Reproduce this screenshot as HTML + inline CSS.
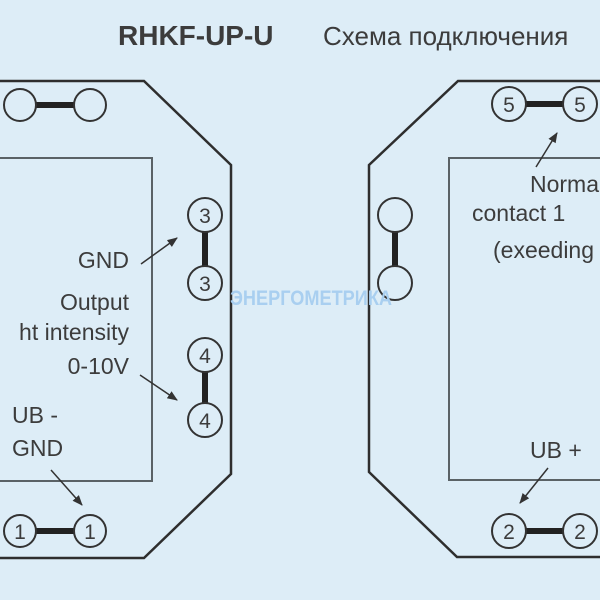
<!DOCTYPE html>
<html><head><meta charset="utf-8"><style>
html,body{margin:0;padding:0;background:#ddedf7;}
svg{display:block}
text{font-family:"Liberation Sans",sans-serif;fill:#3c3c3c;}
</style></head><body>
<svg width="600" height="600" viewBox="0 0 600 600" xmlns="http://www.w3.org/2000/svg">
<defs><marker id="a" viewBox="0 0 10 10" refX="9" refY="5" markerWidth="7" markerHeight="7" orient="auto"><path d="M0,1 L10,5 L0,9 z" fill="#333"/></marker></defs>
<rect width="600" height="600" fill="#ddedf7"/>
<text x="118" y="45" font-size="28" font-weight="bold" fill="#333">RHKF-UP-U</text>
<text x="323" y="45" font-size="26" fill="#444">Схема подключения</text>
<g fill="none" stroke="#2e2e2e" stroke-width="2.5">
<path d="M-5,81 H144 L231,165 V474 L144,558 H-5"/>
<path d="M605,81 H458 L369,165 V472 L457,557 H605"/>
</g>
<g fill="none" stroke="#5a6266" stroke-width="2">
<path d="M-5,158 H152 V481 H-5"/>
<path d="M605,158 H449 V480 H605"/>
</g>
<g stroke="#222" stroke-width="6">
<line x1="36" y1="105" x2="74" y2="105"/>
<line x1="205" y1="232" x2="205" y2="266"/>
<line x1="205" y1="372" x2="205" y2="403"/>
<line x1="36" y1="531" x2="74" y2="531"/>
<line x1="526" y1="104" x2="563" y2="104"/>
<line x1="395" y1="232" x2="395" y2="266"/>
<line x1="526" y1="531" x2="563" y2="531"/>
</g>
<g fill="#ddedf7" stroke="#333" stroke-width="2">
<circle cx="20" cy="105" r="16"/><circle cx="90" cy="105" r="16"/>
<circle cx="205" cy="215" r="17"/><circle cx="205" cy="283" r="17"/>
<circle cx="205" cy="355" r="17"/><circle cx="205" cy="420" r="17"/>
<circle cx="20" cy="531" r="16"/><circle cx="90" cy="531" r="16"/>
<circle cx="509" cy="104" r="17"/><circle cx="580" cy="104" r="17"/>
<circle cx="395" cy="215" r="17"/><circle cx="395" cy="283" r="17"/>
<circle cx="509" cy="531" r="17"/><circle cx="580" cy="531" r="17"/>
</g>
<g font-size="21" text-anchor="middle">
<text x="205" y="223">3</text><text x="205" y="291">3</text>
<text x="205" y="363">4</text><text x="205" y="428">4</text>
<text x="20" y="539">1</text><text x="90" y="539">1</text>
<text x="509" y="112">5</text><text x="580" y="112">5</text>
<text x="509" y="539">2</text><text x="580" y="539">2</text>
</g>
<g font-size="23">
<text x="129" y="268" text-anchor="end">GND</text>
<text x="129" y="310" text-anchor="end">Output</text>
<text x="129" y="340" text-anchor="end">ht intensity</text>
<text x="129" y="374" text-anchor="end">0-10V</text>
<text x="12" y="423">UB -</text>
<text x="12" y="456">GND</text>
<text x="530" y="192">Normal</text>
<text x="472" y="221">contact 1</text>
<text x="493" y="258">(exeeding</text>
<text x="530" y="458">UB +</text>
</g>
<g stroke="#333" stroke-width="1.5" marker-end="url(#a)">
<line x1="141" y1="264" x2="177" y2="238"/>
<line x1="140" y1="375" x2="177" y2="400"/>
<line x1="51" y1="470" x2="82" y2="505"/>
<line x1="536" y1="167" x2="557" y2="133"/>
<line x1="548" y1="468" x2="520" y2="503"/>
</g>
<text x="230" y="305" font-size="21" font-weight="bold" textLength="162" lengthAdjust="spacingAndGlyphs" style="fill:#a9cff0">ЭНЕРГОМЕТРИКА</text>
</svg>
</body></html>
